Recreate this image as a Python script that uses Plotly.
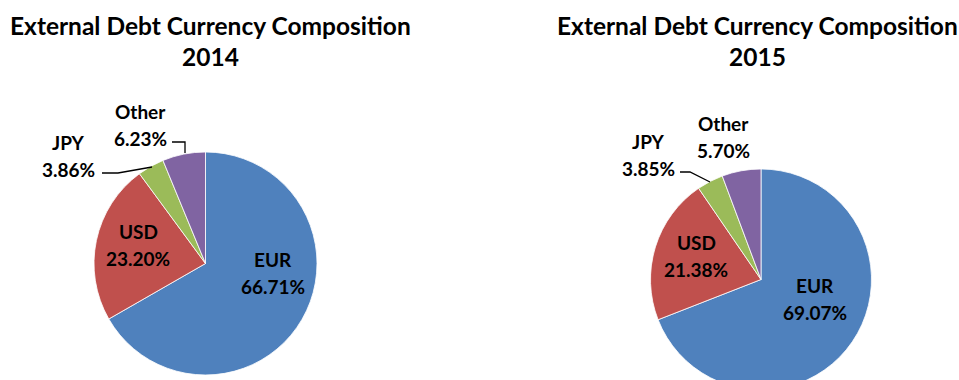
import plotly.graph_objects as go

W, H = 959, 400

labels = ["EUR", "USD", "JPY", "Other"]
values_2014 = [66.71, 23.20, 3.86, 6.23]
values_2015 = [69.07, 21.38, 3.85, 5.70]
years = ["2014", "2015"]
title_text = "External Debt Currency Composition"
colors = ["#4F81BD", "#C0504D", "#9BBB59", "#8064A2"]

FONT = "Lato"

def px(x):
    return x / W

def py(y):
    return 1 - y / H

fig = go.Figure()

pies = [
    (values_2014, (205.5, 263.5), 111.5),
    (values_2015, (761, 279.5), 110.5),
]
for vals, (cx, cy), r in pies:
    fig.add_trace(go.Pie(
        labels=labels, values=vals, sort=False, direction="clockwise", rotation=0,
        marker=dict(colors=colors, line=dict(color="white", width=0.8)),
        textinfo="none", hoverinfo="label+percent", showlegend=False,
        domain=dict(x=[px(cx - r), px(cx + r)], y=[py(cy + r), py(cy - r)]),
    ))

annotations = []

def txt(x, y, s, size):
    annotations.append(dict(
        x=px(x), y=py(y), xref="paper", yref="paper", text=f"<b>{s}</b>",
        showarrow=False, font=dict(family=FONT, size=size, color="black"),
        xanchor="center", yanchor="middle",
    ))

# label centres (pixels) per chart, per category
label_pos = [
    [(273, 273), (138, 245), (68, 156), (140, 125)],
    [(815, 299), (696, 256), (648, 155), (723, 137)],
]
for k, vals in enumerate([values_2014, values_2015]):
    for i in range(4):
        x, y = label_pos[k][i]
        txt(x, y - 13.5, labels[i], 19)
        txt(x, y + 13.5, f"{vals[i]:.2f}%", 19)

title_pos = [(210, 41), (757, 41)]
for k in range(2):
    x, y = title_pos[k]
    txt(x, y - 16, title_text, 24.5)
    txt(x, y + 16, years[k], 24.5)

def path(points):
    d = "M " + " L ".join(f"{px(x)},{py(y)}" for x, y in points)
    return dict(type="path", path=d, xref="paper", yref="paper",
                line=dict(color="black", width=1.3))

shapes = [
    path([(102, 173), (118, 173), (152, 167)]),
    path([(172, 142), (185, 142), (185, 153)]),
    path([(680, 172), (690, 172), (710, 182)]),
]

fig.update_layout(
    width=W, height=H, margin=dict(l=0, r=0, t=0, b=0),
    paper_bgcolor="white", plot_bgcolor="white",
    annotations=annotations, shapes=shapes,
    font=dict(family=FONT),
)

fig.write_html("out.html", post_script="document.body.style.overflow='hidden';document.body.style.margin='0';")
